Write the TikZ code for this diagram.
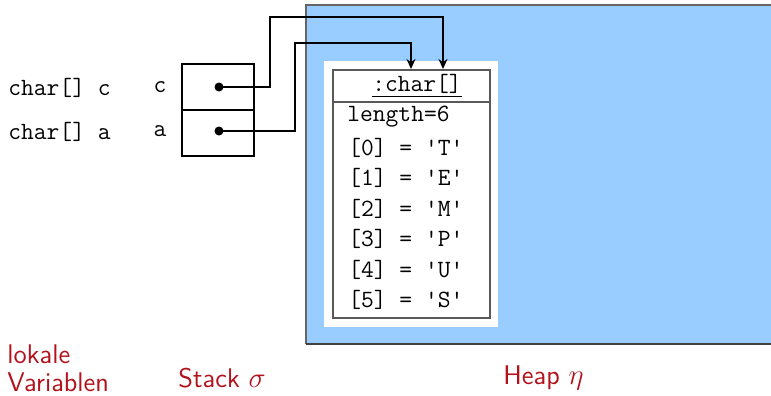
\documentclass[tikz,border=0pt]{standalone}
\usetikzlibrary{arrows.meta}
\definecolor{heapblue}{RGB}{153,204,255}
\definecolor{labelred}{RGB}{178,18,28}
\begin{document}
\begin{tikzpicture}[x=0.5pt,y=-0.5pt,
  mono/.style={font=\fontsize{12.4}{14}\selectfont\ttfamily, inner sep=0pt},
  caption/.style={font=\fontsize{13.5}{16}\selectfont\sffamily, text=labelred, inner sep=0pt},
  cell/.style={draw, line width=1pt},
  ref/.style={line width=1.2pt, -{Stealth[length=5pt,width=4.5pt]}},
  dot/.style={circle, fill, inner sep=0pt, minimum size=4.5pt}]
\useasboundingbox (0,0) rectangle (771,396);

% heap area
\fill[heapblue] (306,5) rectangle (780,344);
\draw[gray!80!black, line width=0.6pt] (780,5) -- (306,5) -- (306,344);
\draw[black!75, line width=1.2pt] (306,344) -- (780,344);

% array object
\fill[white] (324,61) rectangle (498,327);
\draw[gray!70!black, line width=0.6pt] (333,70) rectangle (490,318);
\draw[gray!70!black, line width=0.6pt] (333,102) -- (490,102);
\node[mono] (title) at (417,86) {\underline{:char[]}};
\coordinate (tipC) at (443,69);
\coordinate (tipA) at (411,69);
\node[mono, anchor=west] (len) at (347,117) {length=6};
\node[mono, anchor=west] (e0) at (348,148) {[0] = \textquotesingle T\textquotesingle};
\node[mono, anchor=west] (e1) at (348,178) {[1] = \textquotesingle E\textquotesingle};
\node[mono, anchor=west] (e2) at (348,209) {[2] = \textquotesingle M\textquotesingle};
\node[mono, anchor=west] (e3) at (348,239) {[3] = \textquotesingle P\textquotesingle};
\node[mono, anchor=west] (e4) at (348,270) {[4] = \textquotesingle U\textquotesingle};
\node[mono, anchor=west] (e5) at (348,300) {[5] = \textquotesingle S\textquotesingle};

% stack cells
\draw[cell] (182,64) rectangle (254,110);
\draw[cell] (182,110) rectangle (254,156);
\node[dot] (pc) at (219,87) {};
\node[dot] (pa) at (219,131) {};
\node[mono] (lc) at (160,87) {c};
\node[mono] (la) at (160,131) {a};

% local variables
\node[mono, anchor=west] (vc) at (8,88) {char[] c};
\node[mono, anchor=west] (va) at (8,132) {char[] a};

% references
\draw[ref] (pc.center) -- (270,87) -- (270,17) -- (443,17) -- (tipC);
\draw[ref] (pa.center) -- (295,131) -- (295,43) -- (411,43) -- (tipA);

% captions
\node[caption, anchor=west] (lok) at (7,354) {lokale};
\node[caption, anchor=west] (var) at (7,382) {Variablen};
\node[caption, anchor=west] (stack) at (178,378) {Stack $\sigma$};
\node[caption, anchor=west] (heap) at (503,378) {Heap $\eta$};
\end{tikzpicture}
\end{document}
